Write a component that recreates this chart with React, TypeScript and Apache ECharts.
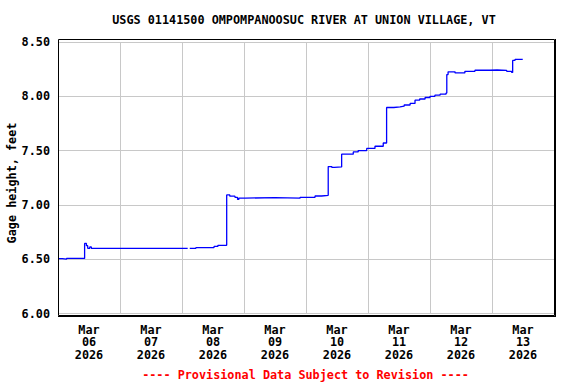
import React, { useEffect, useRef } from "react";
import * as echarts from "echarts";

// Hours since Mar 06 2026 00:00 and gage height (feet); each value holds until the next reading
const hours = [
  0, 1.7, 3.3, 10.3, 11.0, 11.5, 12.3, 12.9, 50.2, 51.0, 53.4, 60.4, 61.9,
  65.3, 66.5, 68.5, 69.5, 70.0, 72.4, 84.0, 93.7, 99.5, 102.0,
  104.6, 106.0, 107.0, 109.8, 114.3, 116.2, 119.5, 122.7, 125.9,
  127.2, 130.0, 132.4, 134.0, 136.3, 138.2, 140.0, 142.1, 144.0, 145.9, 147.9,
  150.2, 150.5, 151.0, 153.7, 157.5, 161.4, 167.2, 170.0, 173.7, 175.6,
  176.0, 176.9, 179.9,
];
const gage: (number | null)[] = [
  6.505, 6.5, 6.507, 6.645, 6.625, 6.6, 6.613, 6.6, null, 6.6, 6.607, 6.618, 6.628,
  7.092, 7.08, 7.07, 7.05, 7.062, 7.067, 7.062, 7.07, 7.082, 7.088,
  7.353, 7.345, 7.35, 7.467, 7.488, 7.5, 7.52, 7.54, 7.57,
  7.897, 7.903, 7.909, 7.92, 7.934, 7.964, 7.975, 7.989, 8.0, 8.01, 8.02,
  8.03, 8.2, 8.225, 8.215, 8.23, 8.24, 8.242, 8.238, 8.23, 8.22,
  8.33, 8.34, 8.34,
];

const labelHours = [12, 36, 60, 84, 108, 132, 156, 180];
const dayLabels = ["Mar\n06\n2026", "Mar\n07\n2026", "Mar\n08\n2026", "Mar\n09\n2026", "Mar\n10\n2026", "Mar\n11\n2026", "Mar\n12\n2026", "Mar\n13\n2026"];

const titleText = "USGS 01141500 OMPOMPANOOSUC RIVER AT UNION VILLAGE, VT";
const yTitle = "Gage height, feet";
const footText = "---- Provisional Data Subject to Revision ----";

const FONT = "'DejaVu Sans Mono', 'Liberation Mono', monospace";

export default function App() {
  const ref = useRef<HTMLDivElement>(null);
  useEffect(() => {
    if (!ref.current) return;
    const chart = echarts.init(ref.current, null, { renderer: "svg" });
    const data = hours.map((h, i) => [h, gage[i] === null ? "-" : gage[i]]);
    chart.setOption({
      animation: false,
      backgroundColor: "#fff",
      grid: { left: 58, right: 22, top: 42, bottom: 70.5, containLabel: false, outerBoundsMode: "none" },
      xAxis: {
        type: "value",
        min: 0,
        max: 192,
        interval: 24,
        axisLine: { show: false },
        axisTick: { show: false },
        splitLine: { show: true, lineStyle: { color: "#c8c8c8", width: 1 } },
        axisLabel: {
          customValues: labelHours,
          formatter: (v: number) => {
            const i = labelHours.indexOf(Math.round(v));
            return i >= 0 ? dayLabels[i] : "";
          },
          color: "#000",
          fontFamily: FONT,
          fontWeight: "bold",
          fontSize: 11.8,
          lineHeight: 12.6,
          margin: 10,
        },
      },
      yAxis: {
        type: "value",
        min: 6,
        max: 8.5,
        interval: 0.5,
        axisLine: { show: false },
        axisTick: { show: false },
        splitLine: { show: true, lineStyle: { color: "#c8c8c8", width: 1 } },
        axisLabel: {
          formatter: (v: number) => v.toFixed(2),
          color: "#000",
          fontFamily: FONT,
          fontWeight: "bold",
          fontSize: 11.8,
          margin: 8,
        },
      },
      series: [
        {
          type: "line",
          step: "end",
          data,
          showSymbol: false,
          connectNulls: false,
          lineStyle: { color: "#0000ff", width: 1.3 },
          z: 5,
        },
      ],
      graphic: [
        {
          type: "rect",
          shape: { x: 58.5, y: 39.5, width: 496, height: 276 },
          style: { fill: "none", stroke: "#000", lineWidth: 1 },
          z: 10,
        },
        {
          type: "line",
          shape: { x1: 58, y1: 316.5, x2: 556, y2: 316.5 },
          style: { stroke: "#000", lineWidth: 1 },
          z: 10,
        },
        {
          type: "line",
          shape: { x1: 555.5, y1: 39, x2: 555.5, y2: 317 },
          style: { stroke: "#000", lineWidth: 1 },
          z: 10,
        },
        {
          type: "text",
          x: 304,
          y: 20,
          style: { text: titleText, align: "center", verticalAlign: "middle", font: `bold 11.8px ${FONT}`, fill: "#000" },
        },
        {
          type: "text",
          x: 11.5,
          y: 183,
          rotation: Math.PI / 2,
          style: { text: yTitle, align: "center", verticalAlign: "middle", font: `bold 11.8px ${FONT}`, fill: "#000" },
        },
        {
          type: "text",
          x: 305.5,
          y: 375,
          style: { text: footText, align: "center", verticalAlign: "middle", font: `bold 11.8px ${FONT}`, fill: "#ff0000" },
        },
      ],
    });
    return () => chart.dispose();
  }, []);
  return <div ref={ref} style={{ width: 576, height: 384, position: "absolute", left: 0, top: 0 }} />;
}
